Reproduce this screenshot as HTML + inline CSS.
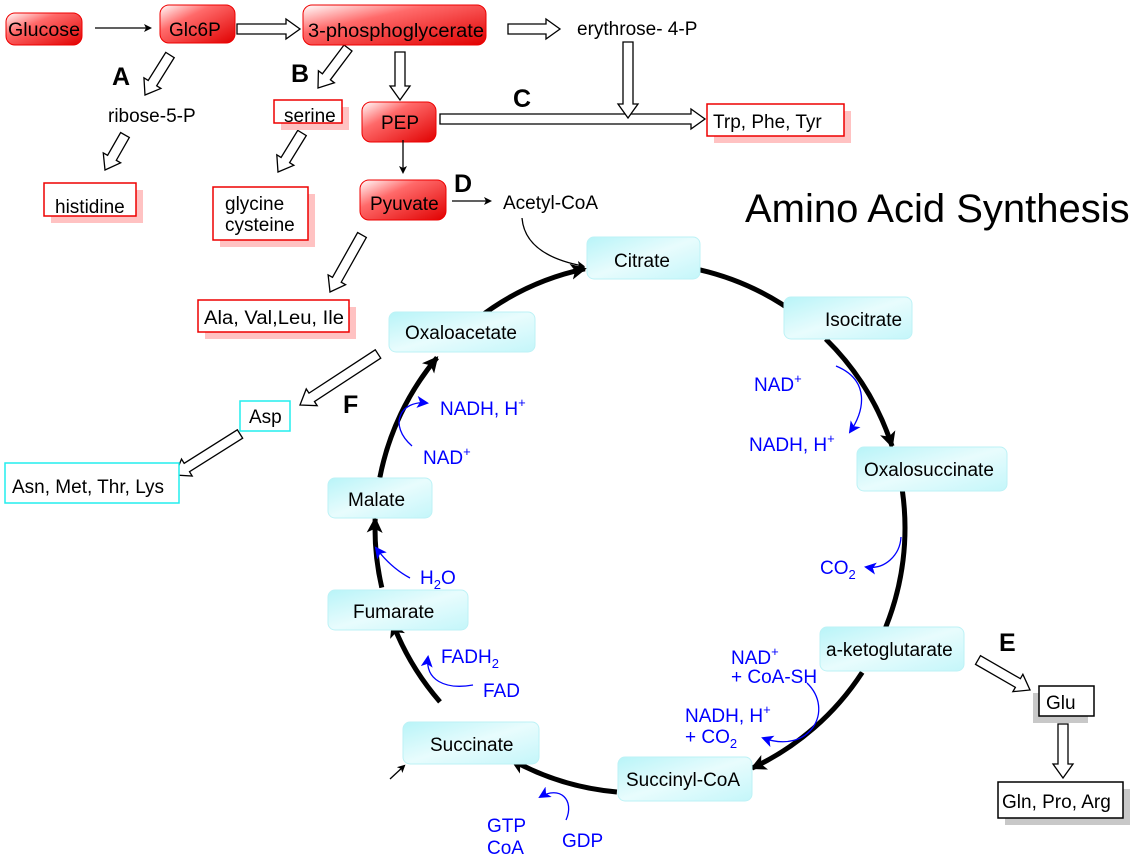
<!DOCTYPE html>
<html><head><meta charset="utf-8"><style>
body{margin:0;background:#fff;}
svg{display:block;font-family:"Liberation Sans",sans-serif;}
</style></head><body>
<svg id="s" width="1137" height="863" viewBox="0 0 1137 863" xmlns="http://www.w3.org/2000/svg">
<defs>
<linearGradient id="rg" x1="0" y1="0" x2="1" y2="1"><stop offset="0" stop-color="#fff"/><stop offset="0.35" stop-color="#ff6a6a"/><stop offset="1" stop-color="#e00000"/></linearGradient>
<linearGradient id="cg" x1="0" y1="0" x2="1" y2="1"><stop offset="0" stop-color="#b8f4f8"/><stop offset="0.5" stop-color="#e8fcfd"/><stop offset="1" stop-color="#c4f6fa"/></linearGradient>
<marker id="ah" markerWidth="8" markerHeight="8" refX="6" refY="4" orient="auto" markerUnits="userSpaceOnUse" viewBox="0 0 8 8"><path d="M0,0 L8,4 L0,8 L2,4z" fill="#000"/></marker>
<marker id="bh" markerWidth="18" markerHeight="16" refX="14" refY="8" orient="auto" markerUnits="userSpaceOnUse"><path d="M0,0 L16,8 L0,16 L4,8z" fill="#000"/></marker>
<marker id="blh" markerWidth="12" markerHeight="12" refX="10" refY="6" orient="auto" markerUnits="userSpaceOnUse"><path d="M0,0 L12,6 L0,12 L3,6z" fill="#00f"/></marker>
</defs>
<g id="arcs" fill="none" stroke="#000" stroke-width="5"></g>
<g id="holl" fill="#fff" stroke="#000" stroke-width="1.3"></g>

<g stroke="#e00" stroke-width="1" fill="url(#rg)">
<rect x="6" y="13" width="76" height="32" rx="9"/>
<rect x="160" y="5" width="75" height="38" rx="9"/>
<rect x="303" y="5" width="183" height="40" rx="9"/>
<rect x="362" y="102" width="74" height="40" rx="9"/>
<rect x="360" y="180" width="86" height="40" rx="9"/>
</g>
<g font-size="19" fill="#000">
<text x="8" y="36" textLength="72" lengthAdjust="spacingAndGlyphs">Glucose</text>
<text x="169" y="36">Glc6P</text>
<text x="308" y="37" textLength="176" lengthAdjust="spacingAndGlyphs">3-phosphoglycerate</text>
<text x="381" y="129">PEP</text>
<text x="370" y="210">Pyuvate</text>
</g>
<g fill="#ffc2c2">
<rect x="281" y="107" width="68" height="23"/>
<rect x="51" y="190" width="92" height="33"/>
<rect x="220" y="194" width="95" height="53"/>
<rect x="714" y="111" width="137" height="32"/>
<rect x="205" y="307" width="151" height="32"/>
</g>
<g fill="#fff" stroke="#e00" stroke-width="1.5">
<rect x="274" y="100" width="68" height="23"/>
<rect x="44" y="183" width="92" height="33"/>
<rect x="213" y="187" width="95" height="53"/>
<rect x="707" y="104" width="137" height="32"/>
<rect x="198" y="300" width="151" height="32"/>
</g>
<g font-size="19">
<text x="284" y="122">serine</text>
<text x="55" y="213">histidine</text>
<text x="225" y="210">glycine</text><text x="225" y="231">cysteine</text>
<text x="713" y="128">Trp, Phe, Tyr</text>
<text x="204" y="324" textLength="140" lengthAdjust="spacingAndGlyphs">Ala, Val,Leu, Ile</text>
<text x="108" y="122">ribose-5-P</text>
<text x="577" y="35">erythrose- 4-P</text>
<text x="503" y="209">Acetyl-CoA</text>
</g>
<g fill="#c8c8c8">
<rect x="1033" y="693" width="55" height="30"/>
<rect x="1005" y="789" width="125" height="36"/>
</g>
<rect x="240" y="401" width="50" height="30" fill="#fff" stroke="#2ee" stroke-width="1.5"/>
<rect x="5" y="463" width="174" height="40" fill="#fff" stroke="#2ee" stroke-width="1.5"/>
<rect x="1039" y="686" width="55" height="30" fill="#fff" stroke="#000" stroke-width="1.5"/>
<rect x="998" y="782" width="125" height="36" fill="#fff" stroke="#000" stroke-width="1.5"/>
<g font-size="19">
<text x="249" y="423">Asp</text>
<text x="12" y="493">Asn, Met, Thr, Lys</text>
<text x="1046" y="709">Glu</text>
<text x="1002" y="808">Gln, Pro, Arg</text>
</g>
<g fill="url(#cg)" stroke="#bdf2f6" stroke-width="1">
<rect x="587" y="237" width="113" height="42" rx="7"/>
<rect x="784" y="297" width="128" height="42" rx="7"/>
<rect x="857" y="447" width="150" height="44" rx="7"/>
<rect x="820" y="627" width="144" height="44" rx="7"/>
<rect x="618" y="757" width="134" height="44" rx="7"/>
<rect x="403" y="722" width="136" height="42" rx="7"/>
<rect x="328" y="590" width="140" height="40" rx="7"/>
<rect x="328" y="478" width="104" height="40" rx="7"/>
<rect x="389" y="312" width="146" height="40" rx="7"/>
</g>
<g font-size="19">
<text x="614" y="267">Citrate</text>
<text x="825" y="326">Isocitrate</text>
<text x="864" y="476">Oxalosuccinate</text>
<text x="826" y="656">a-ketoglutarate</text>
<text x="626" y="786">Succinyl-CoA</text>
<text x="430" y="751">Succinate</text>
<text x="353" y="618">Fumarate</text>
<text x="348" y="506">Malate</text>
<text x="405" y="339">Oxaloacetate</text>
</g>
<text x="745" y="222" font-size="40">Amino Acid Synthesis</text>
<g font-size="25" font-weight="bold">
<text x="112" y="85">A</text><text x="291" y="82">B</text><text x="513" y="107">C</text>
<text x="454" y="192">D</text><text x="999" y="651">E</text><text x="343" y="413">F</text>
</g>
<g stroke="#000" stroke-width="1.3" fill="none" marker-end="url(#ah)">
<line x1="95" y1="28" x2="150" y2="28"/>
<line x1="403" y1="140" x2="403" y2="172"/>
<line x1="452" y1="201" x2="490" y2="201"/>
<path d="M522,218 Q525,255 583,266"/>
<line x1="390" y1="779" x2="404" y2="766"/>
</g>
<g stroke="#00f" stroke-width="1.3" fill="none" marker-end="url(#blh)">
<path d="M412,446 C388,425 400,400 427,403"/>
<path d="M836,366 C870,380 865,410 850,432"/>
<path d="M901,537 C900,555 885,570 866,567"/>
<path d="M807,683 C835,710 810,755 763,738"/>
<path d="M473,685 C445,690 425,680 428,657"/>
<path d="M410,578 C395,570 385,560 376,548"/>
<path d="M566,820 C575,800 560,785 540,797"/>
</g>
<g font-size="19" fill="#00f">
<text x="440" y="415">NADH, H<tspan dy="-8" font-size="13">+</tspan></text>
<text x="423" y="464">NAD<tspan dy="-8" font-size="13">+</tspan></text>
<text x="754" y="391">NAD<tspan dy="-8" font-size="13">+</tspan></text>
<text x="749" y="451">NADH, H<tspan dy="-8" font-size="13">+</tspan></text>
<text x="820" y="574">CO<tspan dy="5" font-size="13">2</tspan></text>
<text x="731" y="664">NAD<tspan dy="-8" font-size="13">+</tspan></text>
<text x="731" y="683">+ CoA-SH</text>
<text x="685" y="722">NADH, H<tspan dy="-8" font-size="13">+</tspan></text>
<text x="685" y="743">+ CO<tspan dy="5" font-size="13">2</tspan></text>
<text x="420" y="584">H<tspan dy="5" font-size="13">2</tspan><tspan dy="-5">O</tspan></text>
<text x="441" y="663">FADH<tspan dy="5" font-size="13">2</tspan></text>
<text x="483" y="697">FAD</text>
<text x="487" y="832">GTP</text>
<text x="487" y="854">CoA</text>
<text x="562" y="847">GDP</text>
</g>
<script>
var NS="http://www.w3.org/2000/svg";
var cx=640,cy=528,r=265;
function pt(a){a=a*Math.PI/180;return [cx+r*Math.cos(a),cy+r*Math.sin(a)];}
var segs=[[-77,-53,1],[-45.5,-18,1],[-8,22,0],[33,65,1],[95,119,1],[139,159,1],[167,182,1],[191,220,1],[232,258,1]];
var g=document.getElementById('arcs');
segs.forEach(function(s){var a=pt(s[0]),b=pt(s[1]);var p=document.createElementNS(NS,'path');
p.setAttribute('d','M'+a[0]+','+a[1]+' A'+r+','+r+' 0 0 1 '+b[0]+','+b[1]);
if(s[2])p.setAttribute('marker-end','url(#bh)');g.appendChild(p);});
var H=document.getElementById('holl');
var arr=[[237,29,300,29],[508,29,560,29],[170,55,145,95],[348,48,318,88],[400,52,400,100],[125,135,105,170],[302,133,278,172],[440,119,705,119],[628,42,628,118],[362,235,330,292],[378,354,300,405],[240,434,175,475],[978,660,1030,690],[1063,724,1063,778]];
arr.forEach(function(a){var dx=a[2]-a[0],dy=a[3]-a[1],L=Math.sqrt(dx*dx+dy*dy),ang=Math.atan2(dy,dx)*180/Math.PI;
var h=14,w=5,W=10;var p=document.createElementNS(NS,'polygon');
p.setAttribute('points','0,'+(-w)+' '+(L-h)+','+(-w)+' '+(L-h)+','+(-W)+' '+L+',0 '+(L-h)+','+W+' '+(L-h)+','+w+' 0,'+w);
p.setAttribute('transform','translate('+a[0]+','+a[1]+') rotate('+ang+')');H.appendChild(p);});
</script>
</svg>
</body></html>
